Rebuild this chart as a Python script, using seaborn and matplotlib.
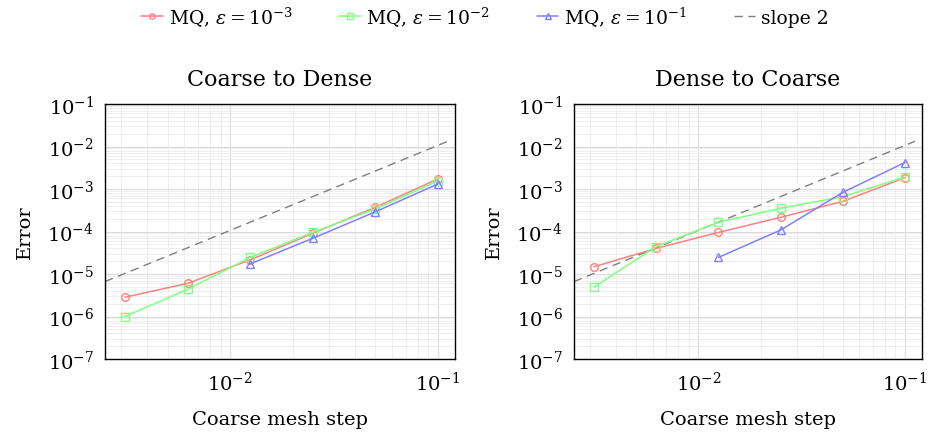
import numpy as np
import pandas as pd
import matplotlib
matplotlib.use("Agg")
import matplotlib.pyplot as plt
from matplotlib.ticker import LogLocator, NullFormatter
import seaborn as sns

# Mesh steps and errors for each experiment
steps = [0.003125, 0.00625, 0.0125, 0.025, 0.05, 0.1]

c2d_eps3 = [2.85e-6, 6.0e-6, 2.15e-5, 9.1e-5, 3.7e-4, 1.72e-3]
c2d_eps2 = [1.0e-6, 4.35e-6, 2.45e-5, 9.5e-5, 3.4e-4, 1.55e-3]
c2d_eps1 = [None, None, 1.73e-5, 6.9e-5, 2.9e-4, 1.31e-3]

d2c_eps3 = [1.48e-5, 4.0e-5, 9.5e-5, 2.15e-4, 5.1e-4, 1.85e-3]
d2c_eps2 = [4.9e-6, 4.4e-5, 1.65e-4, 3.5e-4, 6.6e-4, 1.9e-3]
d2c_eps1 = [None, None, 2.45e-5, 1.08e-4, 8.3e-4, 4.2e-3]

series_labels = [r"MQ, $\epsilon = 10^{-3}$", r"MQ, $\epsilon = 10^{-2}$", r"MQ, $\epsilon = 10^{-1}$"]
slope_label = "slope 2"
slope_coef = 1.06
slope_span = [0.0025, 0.112]
titles = ["Coarse to Dense", "Dense to Coarse"]
xlabel = "Coarse mesh step"
ylabel = "Error"

colors = ["#ff8080", "#80ff80", "#8080ff"]
markers = ["o", "s", "^"]

sns.set_style("white")
plt.rcParams["font.family"] = ["DejaVu Serif"]
plt.rcParams["mathtext.fontset"] = "dejavuserif"
plt.rcParams["text.color"] = "black"
plt.rcParams["axes.labelcolor"] = "black"
plt.rcParams["xtick.color"] = "black"
plt.rcParams["ytick.color"] = "black"

fig = plt.figure(figsize=(9.29, 4.35), dpi=100)
W, H = 929, 435
ax_l = fig.add_axes([105 / W, (H - 360) / H, 350 / W, 255 / H])
ax_r = fig.add_axes([574 / W, (H - 360) / H, 348 / W, 255 / H])

xlim = (0.0025, 0.121)
panels = [(ax_l, [c2d_eps3, c2d_eps2, c2d_eps1]), (ax_r, [d2c_eps3, d2c_eps2, d2c_eps1])]

for (ax, data), title in zip(panels, titles):
    ax.set_xscale("log")
    ax.set_yscale("log")
    # Reference line of second order
    hs = np.array(slope_span)
    sns.lineplot(x=hs, y=slope_coef * hs ** 2, ax=ax, color="#7f7f7f", lw=1.0,
                 linestyle=(0, (6, 4)), label=slope_label, legend=False, zorder=2)
    for vals, lab, col, mk in zip(data, series_labels, colors, markers):
        df = pd.DataFrame({"h": steps, "err": vals}).dropna()
        sns.lineplot(data=df, x="h", y="err", ax=ax, color=col, marker=mk,
                     markersize=5.5, markerfacecolor="none", markeredgecolor=col,
                     markeredgewidth=1.0, lw=1.1, label=lab, legend=False, zorder=3)
    ax.set_xlim(*xlim)
    ax.set_ylim(1e-7, 1e-1)
    ax.yaxis.set_major_locator(LogLocator(base=10, numticks=10))
    ax.yaxis.set_minor_locator(LogLocator(base=10, subs=np.arange(2, 10), numticks=20))
    ax.xaxis.set_major_locator(LogLocator(base=10, numticks=10))
    ax.xaxis.set_minor_locator(LogLocator(base=10, subs=np.arange(2, 10), numticks=20))
    ax.xaxis.set_minor_formatter(NullFormatter())
    ax.yaxis.set_minor_formatter(NullFormatter())
    ax.grid(True, which="major", color="#dcdcdc", lw=0.8)
    ax.grid(True, which="minor", color="#ebebeb", lw=0.6)
    ax.set_axisbelow(True)
    ax.tick_params(which="major", direction="inout", length=6, width=0.7, labelsize=14,
                   color="#333333", pad=5)
    ax.tick_params(which="minor", direction="inout", length=4, width=0.5, color="#555555")
    for sp in ax.spines.values():
        sp.set_color("black")
        sp.set_linewidth(1.0)
    ax.set_title(title, fontsize=16, pad=14)
    ax.set_xlabel(xlabel, fontsize=14, labelpad=12)
    ax.set_ylabel(ylabel, fontsize=14, labelpad=10)

# Shared legend along the top
handles, labels = ax_l.get_legend_handles_labels()
order = [labels.index(l) for l in series_labels + [slope_label]]
fig.legend([handles[i] for i in order], [labels[i] for i in order],
           loc="center", bbox_to_anchor=(485 / W, 1 - 17 / H), ncol=4, frameon=False,
           fontsize=13.5, handlelength=1.15, columnspacing=2.5, handletextpad=0.3,
           markerscale=0.7)

fig.savefig("out.png", dpi=100)
